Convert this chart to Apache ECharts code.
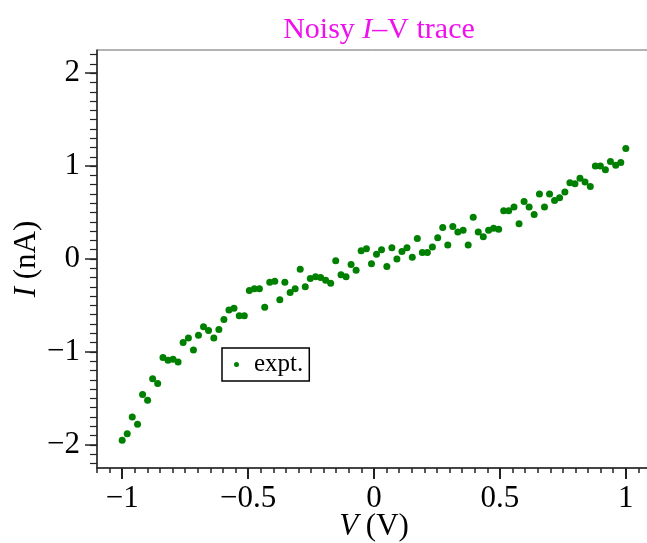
<!DOCTYPE html>
<html>
<head>
<meta charset="utf-8">
<script src="https://cdn.jsdelivr.net/npm/echarts@6/dist/echarts.min.js"></script>
<style>
html,body{margin:0;padding:0;background:#fff;overflow:hidden;}
#chart{width:647px;height:543px;}
</style>
</head>
<body>
<div id="chart"></div>
<script>
// Voltage samples (V)
var voltages = [-1.000,-0.980,-0.960,-0.939,-0.919,-0.899,-0.879,-0.859,-0.838,-0.818,
-0.798,-0.778,-0.758,-0.737,-0.717,-0.697,-0.677,-0.657,-0.636,-0.616,
-0.596,-0.576,-0.556,-0.535,-0.515,-0.495,-0.475,-0.455,-0.434,-0.414,
-0.394,-0.374,-0.354,-0.333,-0.313,-0.293,-0.273,-0.253,-0.232,-0.212,
-0.192,-0.172,-0.152,-0.131,-0.111,-0.091,-0.071,-0.051,-0.030,-0.010,
0.010,0.030,0.051,0.071,0.091,0.111,0.131,0.152,0.172,0.192,
0.212,0.232,0.253,0.273,0.293,0.313,0.333,0.354,0.374,0.394,
0.414,0.434,0.455,0.475,0.495,0.515,0.535,0.556,0.576,0.596,
0.616,0.636,0.657,0.677,0.697,0.717,0.737,0.758,0.778,0.798,
0.818,0.838,0.859,0.879,0.899,0.919,0.939,0.960,0.980,1.000];
// Measured current (nA)
var currents = [-1.95,-1.88,-1.70,-1.78,-1.46,-1.52,-1.29,-1.34,-1.06,-1.09,
-1.08,-1.11,-0.90,-0.85,-0.98,-0.82,-0.73,-0.77,-0.85,-0.76,
-0.65,-0.55,-0.53,-0.61,-0.61,-0.34,-0.32,-0.32,-0.52,-0.25,
-0.24,-0.44,-0.25,-0.36,-0.32,-0.11,-0.30,-0.21,-0.19,-0.20,
-0.23,-0.26,-0.02,-0.17,-0.19,-0.06,-0.12,0.09,0.11,-0.05,
0.05,0.10,-0.08,0.12,0.00,0.08,0.12,0.02,0.22,0.07,
0.07,0.13,0.23,0.34,0.15,0.35,0.29,0.31,0.15,0.45,
0.29,0.24,0.31,0.33,0.32,0.52,0.52,0.56,0.38,0.62,
0.56,0.48,0.70,0.56,0.70,0.63,0.66,0.72,0.82,0.81,
0.87,0.83,0.78,1.00,1.00,0.96,1.05,1.01,1.04,1.19];

var xMajorTicks = [-1, -0.5, 0, 0.5, 1];
var xMinorTicks = [-1.1,-1.05,-1,-0.95,-0.9,-0.85,-0.8,-0.75,-0.7,-0.65,-0.6,-0.55,-0.5,-0.45,-0.4,-0.35,-0.3,-0.25,-0.2,-0.15,-0.1,-0.05,0,
0.05,0.1,0.15,0.2,0.25,0.3,0.35,0.4,0.45,0.5,0.55,0.6,0.65,0.7,0.75,0.8,0.85,0.9,0.95,1,1.05,1.1];
var yMajorTicks = [-2, -1, 0, 1, 2];
var yMinorTicks = [-2.2,-2.1,-2,-1.9,-1.8,-1.7,-1.6,-1.5,-1.4,-1.3,-1.2,-1.1,-1,-0.9,-0.8,-0.7,-0.6,-0.5,-0.4,-0.3,-0.2,-0.1,0,
0.1,0.2,0.3,0.4,0.5,0.6,0.7,0.8,0.9,1,1.1,1.2,1.3,1.4,1.5,1.6,1.7,1.8,1.9,2,2.1,2.2];

var FONT = '"Liberation Serif", "DejaVu Serif", serif';
function fmt(v){ return String(v).replace('-', '\u2212'); }

var points = voltages.map(function(v, i){ return [v, currents[i]]; });

var chart = echarts.init(document.getElementById('chart'), null, {renderer: 'canvas'});
chart.setOption({
  animation: false,
  backgroundColor: '#fff',
  title: {
    text: 'Noisy {i|I}\u2013V trace',
    left: 374,
    top: 10,
    textAlign: 'center',
    textStyle: {
      fontFamily: FONT, fontSize: 30, fontWeight: 'normal', color: '#ee10ee',
      rich: { i: { fontFamily: FONT, fontSize: 30, fontStyle: 'italic', color: '#ee10ee' } }
    }
  },
  grid: {
    left: 97, top: 50, width: 554, bottom: 75,
    containLabel: false,
    outerBoundsMode: 'none',
    show: true, borderColor: '#666', borderWidth: 1, backgroundColor: 'transparent'
  },
  legend: {
    left: 222, top: 348,
    orient: 'vertical',
    data: [{name: 'expt.', icon: 'circle'}],
    itemWidth: 5, itemHeight: 5, itemGap: 0,
    padding: [4, 6, 4, 12],
    borderColor: '#000', borderWidth: 1.5,
    backgroundColor: '#fff',
    textStyle: { fontFamily: FONT, fontSize: 25, color: '#000', padding: [0,0,0,10] }
  },
  xAxis: [{
    type: 'value', min: -1.1, max: 1.1, position: 'bottom',
    name: '{i|V} (V)', nameLocation: 'middle', nameGap: 43, nameMoveOverlap: false,
    nameTextStyle: { fontFamily: FONT, fontSize: 31, color: '#000',
      rich: { i: { fontFamily: FONT, fontSize: 31, fontStyle: 'italic', color: '#000' } } },
    axisLine: { show: true, onZero: false, lineStyle: { color: '#222', width: 1.5 } },
    axisTick: { show: true, inside: false, length: 11, customValues: xMajorTicks, lineStyle: { color: '#222', width: 2 } },
    axisLabel: { show: true, customValues: xMajorTicks, margin: 15, formatter: fmt,
      fontFamily: FONT, fontSize: 31, color: '#000' },
    splitLine: { show: false }
  }, {
    type: 'value', min: -1.1, max: 1.1, position: 'bottom', gridIndex: 0,
    axisLine: { show: false, onZero: false },
    axisTick: { show: true, inside: false, length: 5, customValues: xMinorTicks, lineStyle: { color: '#222', width: 1.5 } },
    axisLabel: { show: false },
    splitLine: { show: false }
  }],
  yAxis: [{
    type: 'value', min: -2.25, max: 2.25, position: 'left',
    name: '{i|I} (nA)', nameLocation: 'middle', nameGap: 55, nameRotate: 90, nameMoveOverlap: false,
    nameTextStyle: { fontFamily: FONT, fontSize: 31, color: '#000',
      rich: { i: { fontFamily: FONT, fontSize: 31, fontStyle: 'italic', color: '#000' } } },
    axisLine: { show: true, onZero: false, lineStyle: { color: '#222', width: 1.5 } },
    axisTick: { show: true, inside: false, length: 12, customValues: yMajorTicks, lineStyle: { color: '#222', width: 1.5 } },
    axisLabel: { show: true, customValues: yMajorTicks, margin: 17, formatter: fmt,
      fontFamily: FONT, fontSize: 31, color: '#000' },
    splitLine: { show: false }
  }, {
    type: 'value', min: -2.25, max: 2.25, position: 'left', gridIndex: 0,
    axisLine: { show: false, onZero: false },
    axisTick: { show: true, inside: false, length: 7, customValues: yMinorTicks, lineStyle: { color: '#222', width: 1.2 } },
    axisLabel: { show: false },
    splitLine: { show: false }
  }],
  series: [{
    name: 'expt.',
    type: 'scatter',
    xAxisIndex: 0, yAxisIndex: 0,
    data: points,
    symbol: 'circle',
    symbolSize: 7,
    itemStyle: { color: '#008000', opacity: 1 }
  }]
});
</script>
</body>
</html>
